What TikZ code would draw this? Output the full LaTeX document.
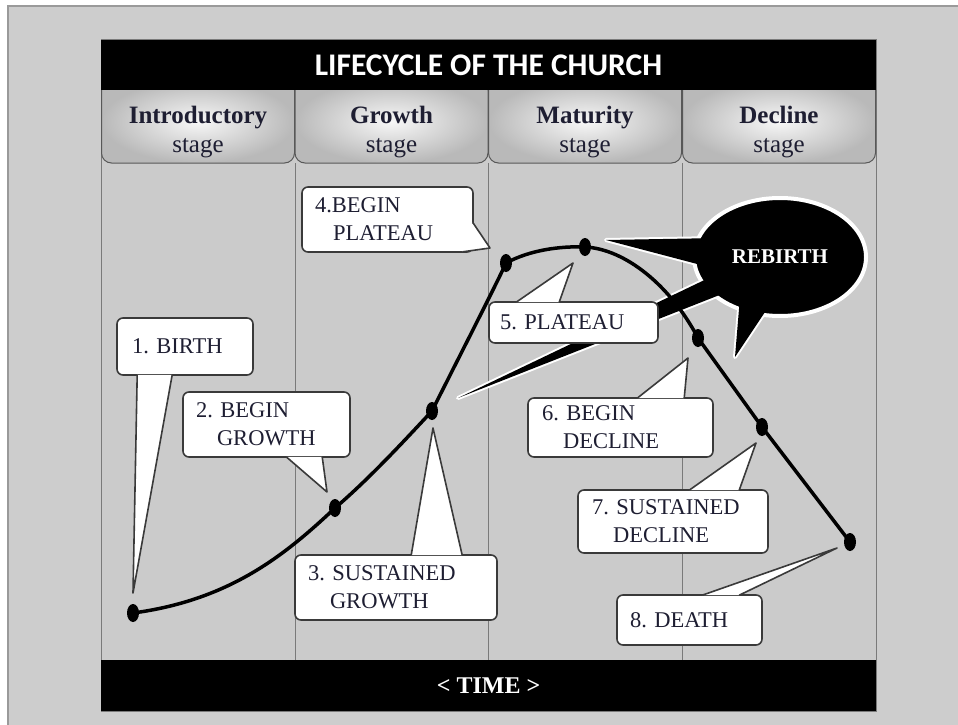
\documentclass[tikz,border=0pt]{standalone}
\usepackage{fontspec}
\setmainfont{Liberation Serif}
\newfontfamily\titlefont{Carlito}
\usetikzlibrary{calc,shapes.geometric}
\definecolor{framebg}{HTML}{CDCDCD}
\definecolor{frameline}{HTML}{9A9A9A}
\definecolor{bodybg}{HTML}{CBCBCB}
\definecolor{colline}{HTML}{7A7A7A}
\definecolor{cborder}{HTML}{3A3A3A}
\definecolor{ctext}{HTML}{1E1E32}
\frenchspacing
\begin{document}
\begin{tikzpicture}[x=1pt,y=-1pt,
  callbox/.style={draw=cborder, fill=white, line width=1.6pt, rounded corners=6pt,
    align=left, inner ysep=0pt, text=ctext, font=\fontsize{22.5}{28}\selectfont},
  ptr/.style={fill=white, draw=cborder, line width=1.6pt, line join=round},
  dotnode/.style={ellipse, fill=black, minimum width=12pt, minimum height=18pt, inner sep=0pt},
  curveline/.style={line width=3.5pt, line join=round, line cap=round},
  tabbox/.style={rectangle, rounded corners=10pt, minimum width=193pt, minimum height=83pt,
    draw=cborder!85, line width=1pt, inner color=gray!6, outer color=gray!55},
  stagetext/.style={align=center, text=ctext, font=\fontsize{25}{29.5}\selectfont},
  barnode/.style={fill=black, minimum width=775pt, inner sep=0pt, text=white},
  bubbleout/.style={draw=white, line width=4pt, fill=black, line join=round},
]
\useasboundingbox (0,0) rectangle (958,725);
\fill[white] (0,0) rectangle (958,725);
\draw[frameline, fill=framebg, line width=1.5pt] (8,6) rectangle (970,735);

% chart body
\fill[bodybg] (101,40) rectangle (876,711);
\foreach \x in {295,488,682} \draw[colline, line width=1pt] (\x,163) -- (\x,660);
\draw[colline, line width=1pt] (101,40) rectangle (876,711);

% stage tabs
\foreach \i/\x/\t in {1/198/Introductory, 2/391.5/Growth, 3/585/Maturity, 4/779/Decline} {
  \node[tabbox] (tab\i) at (\x,121.5) {};
  \node[stagetext] (st\i) at (\x,132) {\textbf{\t}\\stage};
}

% header and footer bars
\node[barnode, minimum height=50pt, font=\titlefont\bfseries\fontsize{31.5}{31.5}\selectfont] (title) at (488.5,65) {LIFECYCLE OF THE CHURCH};
\node[barnode, minimum height=51pt, font=\bfseries\fontsize{24}{24}\selectfont] (timebar) at (488.5,685.5) {< TIME >};

% rebirth bubble
\coordinate (rbc) at (780,257);
\path[bubbleout] (rbc) ++(-60,-19) -- (606,240) -- ($(rbc)+(-60,13)$) -- cycle;
\path[bubbleout] (rbc) ++(-40,6) -- (458,398) -- ($(rbc)+(-30,26)$) -- cycle;
\path[bubbleout] (rbc) ++(-40,40) -- (735,357) -- ($(rbc)+(-5,40)$) -- cycle;
\node[ellipse, fill=black, draw=white, line width=4pt, minimum width=172pt, minimum height=118pt] (rb) at (rbc) {};
\fill[black] (rbc) ++(-60,-19) -- (606,240) -- ($(rbc)+(-60,13)$) -- cycle;
\fill[black] (rbc) ++(-40,6) -- (458,398) -- ($(rbc)+(-30,26)$) -- cycle;
\fill[black] (rbc) ++(-40,40) -- (735,357) -- ($(rbc)+(-5,40)$) -- cycle;
\node[text=white, font=\bfseries\fontsize{21}{21}\selectfont] (rbt) at (rb.center) {REBIRTH};

% curve
\coordinate (p1) at (133,613);
\coordinate (p2) at (335,508);
\coordinate (p3) at (432,411);
\coordinate (p4) at (506,263);
\coordinate (p5) at (585,247);
\coordinate (p6) at (698,338);
\coordinate (p7) at (762,427);
\coordinate (p8) at (850,542);
\draw[curveline] (p1) .. controls (230,600) and (285,555) .. (p2)
  .. controls (370,478) and (405,440) .. (p3)
  .. controls (457,361) and (496,285) .. (p4)
  .. controls (530,250) and (560,246) .. (p5)
  .. controls (625,249) and (670,285) .. (p6) -- (p7) -- (p8);
\foreach \i in {1,...,8} \node[dotnode] (d\i) at (p\i) {};

% callouts
\node[callbox, text width=106pt, inner xsep=15pt, minimum height=57pt] (c1) at (185,346.5) {1. BIRTH};
\filldraw[ptr] ($(c1.south west)+(21,-1)$) -- ($(d1)+(0,-20)$) -- ($(c1.south west)+(56,-1)$);

\node[callbox, text width=141pt, inner xsep=13pt, minimum height=65pt] (c2) at (266.5,424.5) {2. BEGIN\\\hspace*{21pt}GROWTH};
\filldraw[ptr] ($(c2.south west)+(104,-1)$) -- ($(d2)+(-8,-16)$) -- ($(c2.south west)+(140,-1)$);

\node[callbox, text width=176pt, inner xsep=13pt, minimum height=65pt] (c3) at (396,587.5) {3. SUSTAINED\\\hspace*{22pt}GROWTH};
\filldraw[ptr] ($(c3.north west)+(117,1)$) -- ($(d3)+(1,17)$) -- ($(c3.north west)+(168,1)$);

\node[callbox, text width=145pt, inner xsep=13pt, minimum height=65pt] (c4) at (387.5,219.5) {4.BEGIN\\\hspace*{18pt}PLATEAU};
\filldraw[ptr] ($(c4.east)+(-1,3)$) -- ($(d4)+(-16,-15)$) -- ($(c4.south east)+(-11,-1)$);

\node[callbox, text width=147pt, inner xsep=11pt, minimum height=41pt] (c5) at (573.5,322.5) {5. PLATEAU};
\filldraw[ptr] ($(c5.north west)+(28,1)$) -- ($(d5)+(-12,16)$) -- ($(c5.north west)+(71,1)$);

\node[callbox, text width=157pt, inner xsep=14pt, minimum height=59pt] (c6) at (620.5,427.5) {6. BEGIN\\\hspace*{21pt}DECLINE};
\filldraw[ptr] ($(c6.north west)+(110,1)$) -- ($(d6)+(-10,20)$) -- ($(c6.north west)+(157,1)$);

\node[callbox, text width=162pt, inner xsep=14pt, minimum height=63pt] (c7) at (673,521.5) {7. SUSTAINED\\\hspace*{21pt}DECLINE};
\filldraw[ptr] ($(c7.north west)+(112,1)$) -- ($(d7)+(-6,16)$) -- ($(c7.north west)+(162,1)$);

\node[callbox, text width=119pt, inner xsep=13pt, minimum height=50pt] (c8) at (689.5,620) {8. DEATH};
\filldraw[ptr] ($(c8.north west)+(86,1)$) -- ($(d8)+(-13,6)$) -- ($(c8.north west)+(123,1)$);
\end{tikzpicture}
\end{document}
